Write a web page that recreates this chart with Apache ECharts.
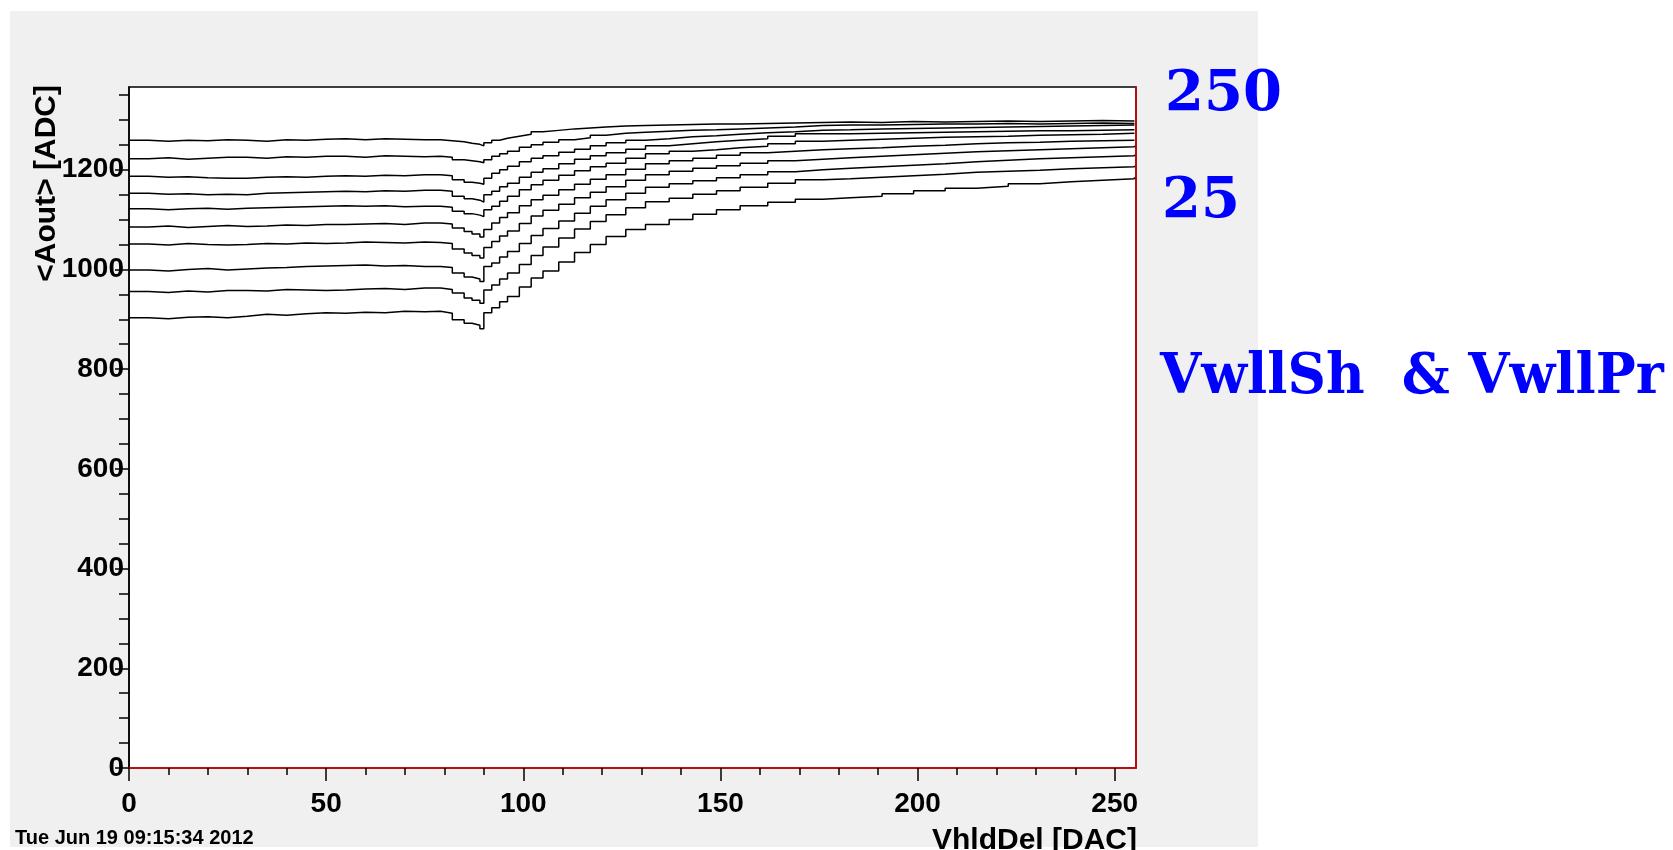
<!DOCTYPE html>
<html>
<head>
<meta charset="utf-8">
<script src="https://cdn.jsdelivr.net/npm/echarts@6/dist/echarts.min.js"></script>
<style>
  html, body { margin: 0; padding: 0; background: #fff; }
  #chart { width: 1673px; height: 850px; }
</style>
</head>
<body>
<div id="chart"></div>
<script>
// bin positions (VhldDel DAC) where the step values are read
var vhldDel = [0, 5, 10, 15, 20, 25, 30, 35, 40, 45, 50, 55, 60, 65, 70, 75, 79, 82, 85, 87,
  89, 90, 92, 94, 96, 99, 102, 105, 109, 113, 117, 121, 126, 131, 137, 143, 149, 155, 162, 169,
  176, 183, 191, 199, 207, 215, 223, 231, 239, 247, 255];

// <Aout> [ADC] for each scan curve, top to bottom
var aout1 = [1259, 1257, 1259, 1258, 1260, 1259, 1257, 1260, 1259, 1261, 1262, 1260, 1262, 1261, 1260, 1260, 1258, 1256, 1253, 1251,
  1248, 1254, 1259, 1263, 1267, 1271, 1276, 1279, 1282, 1284, 1286, 1288, 1289, 1290, 1291, 1292, 1292, 1293, 1294, 1295,
  1296, 1295, 1297, 1296, 1297, 1298, 1297, 1298, 1299, 1298, 1299];
var aout2 = [1222, 1224, 1221, 1223, 1225, 1225, 1223, 1226, 1225, 1227, 1227, 1225, 1228, 1227, 1226, 1227, 1225, 1220, 1218, 1216,
  1214, 1220, 1227, 1232, 1237, 1245, 1250, 1255, 1260, 1264, 1269, 1273, 1275, 1277, 1279, 1280, 1282, 1284, 1286, 1289,
  1290, 1290, 1291, 1292, 1292, 1293, 1292, 1293, 1294, 1293, 1294];
var aout3 = [1187, 1185, 1186, 1184, 1183, 1183, 1185, 1186, 1185, 1187, 1188, 1187, 1189, 1188, 1190, 1190, 1188, 1180, 1175, 1173,
  1171, 1183, 1193, 1200, 1207, 1216, 1223, 1228, 1235, 1241, 1248, 1254, 1259, 1262, 1266, 1268, 1271, 1274, 1276, 1279,
  1280, 1282, 1283, 1284, 1285, 1286, 1287, 1288, 1289, 1290, 1290];
var aout4 = [1153, 1151, 1152, 1150, 1151, 1150, 1153, 1154, 1155, 1156, 1157, 1156, 1158, 1157, 1159, 1159, 1157, 1147, 1142, 1139,
  1135, 1150, 1157, 1166, 1173, 1185, 1195, 1202, 1212, 1221, 1228, 1234, 1241, 1248, 1252, 1256, 1259, 1262, 1267, 1272,
  1272, 1273, 1274, 1275, 1276, 1277, 1278, 1278, 1279, 1280, 1280];
var aout5 = [1122, 1120, 1122, 1123, 1121, 1123, 1124, 1125, 1126, 1127, 1128, 1127, 1128, 1126, 1127, 1127, 1125, 1117, 1112, 1109,
  1106, 1120, 1127, 1137, 1147, 1160, 1170, 1179, 1189, 1198, 1206, 1213, 1223, 1232, 1237, 1240, 1244, 1247, 1252, 1257,
  1259, 1261, 1263, 1265, 1266, 1267, 1269, 1270, 1271, 1273, 1274];
var aout6 = [1085, 1087, 1084, 1086, 1088, 1086, 1087, 1089, 1088, 1090, 1090, 1091, 1092, 1090, 1093, 1093, 1091, 1083, 1076, 1071,
  1065, 1080, 1093, 1104, 1114, 1128, 1140, 1149, 1160, 1171, 1181, 1190, 1201, 1212, 1218, 1223, 1229, 1234, 1237, 1240,
  1242, 1244, 1247, 1249, 1252, 1254, 1255, 1257, 1258, 1259, 1260];
var aout7 = [1051, 1049, 1052, 1050, 1049, 1050, 1052, 1051, 1053, 1052, 1053, 1055, 1054, 1053, 1055, 1054, 1052, 1041, 1033, 1028,
  1023, 1044, 1056, 1067, 1077, 1092, 1107, 1119, 1131, 1144, 1155, 1166, 1179, 1190, 1197, 1203, 1208, 1213, 1218, 1221,
  1224, 1227, 1230, 1233, 1236, 1238, 1240, 1242, 1244, 1246, 1248];
var aout8 = [999, 997, 1000, 1002, 999, 1001, 1003, 1004, 1006, 1007, 1008, 1009, 1007, 1008, 1006, 1006, 1004, 993, 985, 981,
  976, 1006, 1013, 1025, 1036, 1052, 1068, 1082, 1097, 1113, 1127, 1140, 1153, 1165, 1172, 1178, 1184, 1190, 1196, 1200,
  1203, 1206, 1209, 1212, 1216, 1219, 1222, 1224, 1226, 1228, 1230];
var aout9 = [956, 954, 957, 955, 958, 958, 957, 960, 959, 958, 959, 961, 962, 960, 963, 963, 960, 953, 943, 938,
  932, 959, 969, 981, 993, 1010, 1028, 1045, 1063, 1081, 1096, 1110, 1124, 1136, 1143, 1151, 1158, 1165, 1173, 1180,
  1182, 1185, 1188, 1191, 1195, 1197, 1199, 1202, 1204, 1206, 1208];
var aout10 = [903, 901, 904, 905, 903, 906, 910, 908, 911, 913, 912, 914, 913, 916, 915, 916, 912, 899, 892, 888,
  881, 913, 923, 935, 946, 965, 983, 997, 1015, 1034, 1050, 1066, 1080, 1090, 1100, 1111, 1120, 1128, 1135, 1141,
  1144, 1147, 1152, 1158, 1163, 1167, 1172, 1176, 1179, 1182, 1185];

var curves = [aout1, aout2, aout3, aout4, aout5, aout6, aout7, aout8, aout9, aout10];

// axis ticks
var xMajor = [0, 50, 100, 150, 200, 250];
var xMinor = [10, 20, 30, 40, 60, 70, 80, 90, 110, 120, 130, 140, 160, 170, 180, 190, 210, 220, 230, 240];
var yMajor = [0, 200, 400, 600, 800, 1000, 1200];
var yMinor = [50, 100, 150, 250, 300, 350, 450, 500, 550, 650, 700, 750, 850, 900, 950, 1050, 1100, 1150, 1250, 1300, 1350];

var X_MAX = 255.4;
var Y_MAX = 1366;

var chart = echarts.init(document.getElementById("chart"));

var labelFont = { fontFamily: "Liberation Sans", fontWeight: "bold", fontSize: 28, color: "#000" };
var plain = function (v) { return String(v); };

var series = curves.map(function (vals, k) {
  return {
    name: "curve" + (k + 1),
    type: "line",
    step: "end",
    showSymbol: false,
    silent: true,
    clip: true,
    lineStyle: { color: "#000", width: 1.5 },
    data: vhldDel.map(function (x, i) { return [x, vals[i]]; })
  };
});

var option = {
  backgroundColor: "#fff",
  animation: false,
  grid: {
    left: 129, top: 87, width: 1007, height: 681,
    show: true, backgroundColor: "#fff", borderColor: "#000", borderWidth: 1.5
  },
  xAxis: [
    {
      type: "value", min: 0, max: X_MAX, position: "bottom",
      axisLine: { show: true, onZero: false, lineStyle: { color: "#e00000", width: 1.5 } },
      axisTick: { show: true, length: 13, customValues: xMajor, lineStyle: { color: "#000", width: 1.5 } },
      axisLabel: Object.assign({ customValues: xMajor, margin: 22, formatter: plain }, labelFont),
      splitLine: { show: false }
    },
    {
      type: "value", min: 0, max: X_MAX, position: "bottom",
      axisLine: { show: false, onZero: false },
      axisTick: { show: true, length: 7, customValues: xMinor, lineStyle: { color: "#000", width: 1.5 } },
      axisLabel: { show: false },
      splitLine: { show: false }
    }
  ],
  yAxis: [
    {
      type: "value", min: 0, max: Y_MAX, position: "left",
      axisLine: { show: true, onZero: false, lineStyle: { color: "#000", width: 1.5 } },
      axisTick: { show: true, length: 14, customValues: yMajor, lineStyle: { color: "#000", width: 1.5 } },
      axisLabel: Object.assign({ customValues: yMajor, margin: 5, formatter: plain }, labelFont),
      splitLine: { show: false }
    },
    {
      type: "value", min: 0, max: Y_MAX, position: "left",
      axisLine: { show: false, onZero: false },
      axisTick: { show: true, length: 10, customValues: yMinor, lineStyle: { color: "#000", width: 1.5 } },
      axisLabel: { show: false },
      splitLine: { show: false }
    },
    {
      type: "value", min: 0, max: Y_MAX, position: "right",
      axisLine: { show: true, onZero: false, lineStyle: { color: "#e00000", width: 1.5 } },
      axisTick: { show: false },
      axisLabel: { show: false },
      splitLine: { show: false }
    }
  ],
  graphic: [
    {
      type: "rect", z: -10, silent: true,
      shape: { x: 10, y: 11, width: 1248, height: 836 },
      style: { fill: "#f0f0f0" }
    },
    {
      type: "text", x: 47, y: 85, rotation: Math.PI / 2, silent: true,
      style: { text: "<Aout> [ADC]", align: "right", verticalAlign: "middle",
        font: "bold 30px 'Liberation Sans'", fill: "#000" }
    },
    {
      type: "text", x: 1137, y: 841, silent: true,
      style: { text: "VhldDel [DAC]", align: "right", verticalAlign: "middle",
        font: "bold 30px 'Liberation Sans'", fill: "#000" }
    },
    {
      type: "text", x: 15, y: 838, silent: true,
      style: { text: "Tue Jun 19 09:15:34 2012", align: "left", verticalAlign: "middle",
        font: "bold 20px 'Liberation Sans'", fill: "#000" }
    },
    {
      type: "text", x: 1165, y: 95, silent: true, z: 10,
      style: { text: "250", align: "left", verticalAlign: "middle",
        font: "bold 56px 'DejaVu Serif'", fill: "#0000ff" }
    },
    {
      type: "text", x: 1162, y: 202, silent: true, z: 10,
      style: { text: "25", align: "left", verticalAlign: "middle",
        font: "bold 56px 'DejaVu Serif'", fill: "#0000ff" }
    },
    {
      type: "text", x: 1160, y: 378, scaleX: 0.95, silent: true, z: 10,
      style: { text: "VwllSh  & VwllPr", align: "left", verticalAlign: "middle",
        font: "bold 56px 'DejaVu Serif'", fill: "#0000ff" }
    }
  ],
  series: series
};

chart.setOption(option);
</script>
</body>
</html>
